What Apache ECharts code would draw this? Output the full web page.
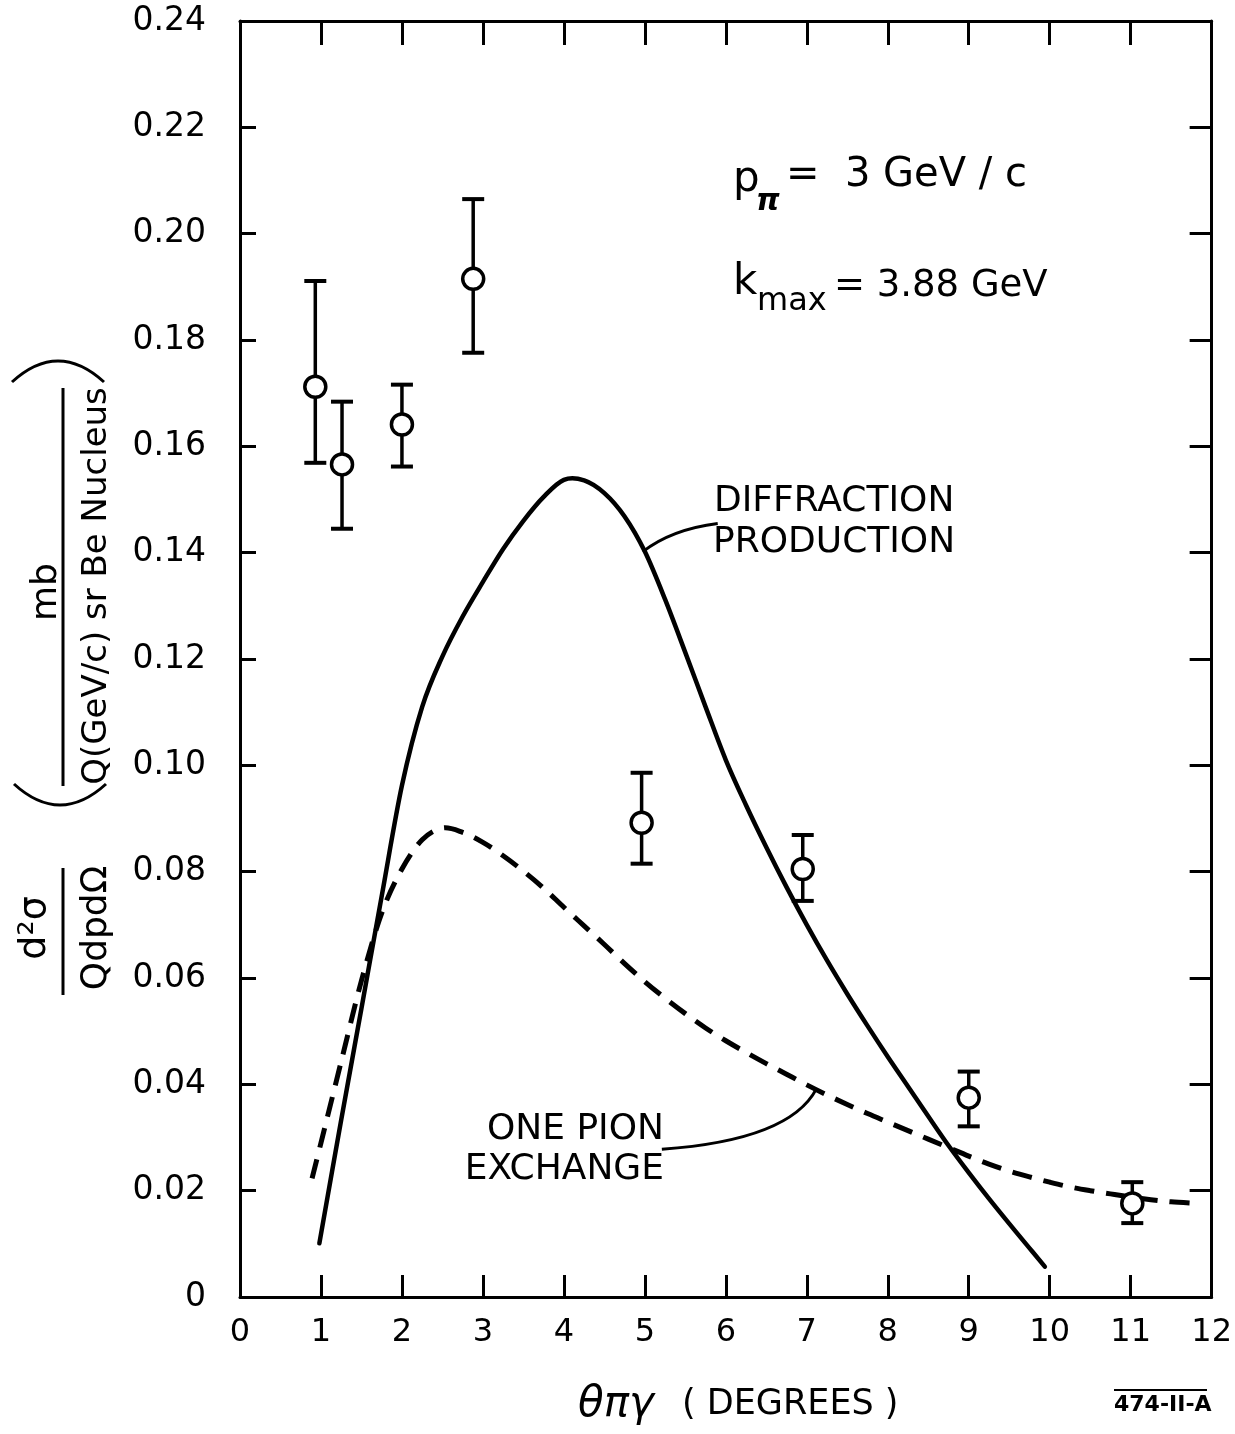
<!DOCTYPE html>
<html><head><meta charset="utf-8">
<script src="https://cdn.jsdelivr.net/npm/echarts@6/dist/echarts.min.js"></script>
<style>html,body{margin:0;padding:0;background:#fff}#c{width:1235px;height:1434px}</style>
</head><body><div id="c"></div>
<script>
// ---- data ----
const xTickValues = [0,1,2,3,4,5,6,7,8,9,10,11,12];
const yTickValues = [0,0.02,0.04,0.06,0.08,0.10,0.12,0.14,0.16,0.18,0.20,0.22,0.24];

const pointX   = [0.93, 1.26, 2.0, 2.88, 4.96, 6.95, 9.0, 11.02];
const pointY   = [0.1712, 0.1566, 0.1641, 0.1915, 0.0892, 0.0805, 0.0375, 0.0176];
const errLow   = [0.1569, 0.1445, 0.1562, 0.1776, 0.0815, 0.0745, 0.0321, 0.0139];
const errHigh  = [0.1911, 0.1684, 0.1716, 0.2065, 0.0986, 0.0869, 0.0424, 0.0216];

// "Diffraction production" curve (solid)
const diffX = [0.98, 1.25, 1.5, 1.75, 2.0, 2.25, 2.5, 2.75, 3.0, 3.25, 3.5, 3.75, 4.0, 4.25, 4.5, 4.75, 5.0, 5.25, 5.5, 5.75, 6.0, 6.25, 6.5, 6.75, 7.0, 7.25, 7.5, 7.75, 8.0, 8.25, 8.5, 8.75, 9.0, 9.25, 9.5, 9.75, 9.94];
const diffY = [0.0101, 0.0333, 0.0543, 0.0754, 0.0962, 0.1110, 0.1205, 0.1280, 0.1345, 0.1407, 0.1460, 0.1505, 0.1537, 0.1536, 0.1512, 0.1468, 0.1402, 0.1312, 0.1212, 0.1110, 0.1010, 0.0925, 0.0846, 0.0771, 0.0700, 0.0633, 0.0570, 0.0510, 0.0452, 0.0396, 0.0340, 0.0285, 0.0234, 0.0185, 0.0138, 0.0092, 0.0057];

// "One pion exchange" curve (dashed)
const opeX = [0.89, 1.0, 1.25, 1.5, 1.75, 2.0, 2.25, 2.5, 2.75, 3.0, 3.25, 3.5, 3.75, 4.0, 4.25, 4.5, 4.75, 5.0, 5.25, 5.5, 5.75, 6.0, 6.25, 6.5, 6.75, 7.0, 7.25, 7.5, 7.75, 8.0, 8.25, 8.5, 8.75, 9.0, 9.25, 9.5, 9.75, 10.0, 10.25, 10.5, 10.75, 11.0, 11.25, 11.5, 11.8];
const opeY = [0.0223, 0.0290, 0.0443, 0.0595, 0.0722, 0.0805, 0.0860, 0.0882, 0.0874, 0.0855, 0.0830, 0.0801, 0.0769, 0.0733, 0.0698, 0.0663, 0.0627, 0.0593, 0.0562, 0.0533, 0.0506, 0.0482, 0.0460, 0.0439, 0.0419, 0.0399, 0.0380, 0.0362, 0.0345, 0.0329, 0.0313, 0.0297, 0.0281, 0.0265, 0.0250, 0.0237, 0.0226, 0.0216, 0.0207, 0.0200, 0.0194, 0.0188, 0.0183, 0.0179, 0.0176];

// leader line anchors (data units): start, control, end
const diffLeader = [[4.975, 0.1402], [5.33, 0.1444], [5.9, 0.1455]];
const opeLeader  = [[5.21, 0.0278], [6.79, 0.0295], [7.12, 0.0392]];

// ---- chart ----
const FONT = 'DejaVu Sans';
const chart = echarts.init(document.getElementById('c'), null, {renderer:'canvas'});

const axisCommon = {
  type:'value', splitLine:{show:false},
  axisLine:{show:true, onZero:false, lineStyle:{color:'#000', width:3}},
};

// smooth curve through the data points (Catmull-Rom -> cubic Bezier), in pixel space via api.coord
function splineCurve(xs, ys, lineStyle){
  return (params, api) => {
    if (params.dataIndex !== 0) return null;
    const p = xs.map((x,i)=>api.coord([x, ys[i]]));
    let d = 'M' + p[0][0].toFixed(2) + ' ' + p[0][1].toFixed(2);
    for (let i = 0; i < p.length - 1; i++){
      const p0 = p[i-1] || p[i], p1 = p[i], p2 = p[i+1], p3 = p[i+2] || p[i+1];
      const c1x = p1[0] + (p2[0]-p0[0])/6, c1y = p1[1] + (p2[1]-p0[1])/6;
      const c2x = p2[0] - (p3[0]-p1[0])/6, c2y = p2[1] - (p3[1]-p1[1])/6;
      d += ' C' + [c1x,c1y,c2x,c2y,p2[0],p2[1]].map(v=>v.toFixed(2)).join(' ');
    }
    return {type:'path', shape:{pathData:d}, style:Object.assign({fill:'none', stroke:'#000'}, lineStyle)};
  };
}

const option = {
  backgroundColor:'#fff',
  animation:false,
  grid:{left:240, right:22, top:21, bottom:137, containLabel:false},
  xAxis:[
    Object.assign({}, axisCommon, {min:0, max:12, interval:1, position:'bottom',
      axisTick:{show:true, inside:true, length:22, lineStyle:{color:'#000', width:3}},
      axisLabel:{show:true, color:'#000', fontFamily:FONT, fontSize:32, margin:20}}),
    Object.assign({}, axisCommon, {min:0, max:12, interval:1, position:'top',
      axisTick:{show:true, inside:true, length:24, lineStyle:{color:'#000', width:3}},
      axisLabel:{show:false}})
  ],
  yAxis:[
    Object.assign({}, axisCommon, {min:0, max:0.24, interval:0.02, position:'left',
      axisTick:{show:true, inside:true, length:16, lineStyle:{color:'#000', width:3}},
      axisLabel:{show:true, color:'#000', fontFamily:FONT, fontSize:33, margin:34,
        formatter: v => (Math.abs(v) < 1e-9 ? '0' : v.toFixed(2))}}),
    Object.assign({}, axisCommon, {min:0, max:0.24, interval:0.02, position:'right',
      axisTick:{show:true, inside:true, length:22, lineStyle:{color:'#000', width:3}},
      axisLabel:{show:false}})
  ],
  series:[
    {
      type:'custom', name:'Diffraction production', xAxisIndex:0, yAxisIndex:0,
      data: diffX.map((x,i)=>[x, diffY[i]]),
      renderItem: splineCurve(diffX, diffY, {lineWidth:4.5, lineCap:'round'}), z:3
    },
    {
      type:'custom', name:'One pion exchange', xAxisIndex:0, yAxisIndex:0,
      data: opeX.map((x,i)=>[x, opeY[i]]),
      renderItem: splineCurve(opeX, opeY, {lineWidth:5, lineDash:[20,12]}), z:3
    },
    {
      type:'custom', name:'errors', xAxisIndex:0, yAxisIndex:0,
      data: pointX.map((x,i)=>[x, errLow[i], errHigh[i]]),
      renderItem:(params, api)=>{
        const x = api.value(0);
        const pLo = api.coord([x, api.value(1)]);
        const pHi = api.coord([x, api.value(2)]);
        const hw = 11;
        const st = {stroke:'#000', lineWidth:4};
        return {type:'group', children:[
          {type:'line', shape:{x1:pHi[0], y1:pHi[1], x2:pLo[0], y2:pLo[1]}, style:{stroke:'#000', lineWidth:3.5}},
          {type:'line', shape:{x1:pHi[0]-hw, y1:pHi[1], x2:pHi[0]+hw, y2:pHi[1]}, style:st},
          {type:'line', shape:{x1:pLo[0]-hw, y1:pLo[1], x2:pLo[0]+hw, y2:pLo[1]}, style:st}
        ]};
      }, z:4
    },
    {
      type:'scatter', name:'data', xAxisIndex:0, yAxisIndex:0,
      data: pointX.map((x,i)=>[x, pointY[i]]),
      symbol:'circle', symbolSize:21,
      itemStyle:{color:'#fff', borderColor:'#000', borderWidth:3.5, opacity:1}, z:5
    }
  ]
};
chart.setOption(option);

function px(p){ return chart.convertToPixel({xAxisIndex:0, yAxisIndex:0}, p); }
function leader(pts){
  const a = px(pts[0]), c = px(pts[1]), b = px(pts[2]);
  return {type:'bezierCurve', shape:{x1:a[0], y1:a[1], cpx1:c[0], cpy1:c[1], x2:b[0], y2:b[1]},
    style:{stroke:'#000', lineWidth:3, fill:null}, z:10};
}
function txt(x, y, s, size, opts){
  return Object.assign({type:'text', x:x, y:y, z:10,
    style:Object.assign({text:s, fill:'#000', font:'normal ' + size + 'px "' + FONT + '"', align:'left', verticalAlign:'middle'}, (opts && opts.style) || {})},
    opts && opts.el || {});
}
const R = Math.PI/2;
const graphics = [
  leader(diffLeader),
  leader(opeLeader),
  txt(714, 502, 'DIFFRACTION', 36),
  txt(713, 543, 'PRODUCTION', 36),
  txt(664, 1130, 'ONE PION', 36, {style:{align:'right'}}),
  txt(664, 1170, 'EXCHANGE', 36, {style:{align:'right'}}),
  // p_pi = 3 GeV/c
  txt(733, 180, 'p', 42),
  txt(756, 202, 'π', 30, {style:{font:'italic bold 30px "' + FONT + '"'}}),
  txt(786, 176, '=  3 GeV / c', 40),
  // k_max = 3.88 GeV
  txt(733, 283, 'k', 42),
  txt(757, 302, 'max', 32),
  txt(834, 286, '= 3.88 GeV', 37),
  // x-axis title
  txt(578, 1405, 'θπγ', 42, {style:{font:'italic 42px "' + FONT + '"'}}),
  txt(682, 1405, '( DEGREES )', 35),
  txt(1114, 1405, '474-II-A', 22, {style:{font:'bold 22px "' + FONT + '"'}}),
  {type:'line', shape:{x1:1114, y1:1390, x2:1207, y2:1390}, style:{stroke:'#000', lineWidth:2}},
  // y-axis title (rotated)
  txt(35, 928, 'd²σ', 38, {style:{align:'center'}, el:{rotation:R}}),
  {type:'line', shape:{x1:63, y1:868, x2:63, y2:995}, style:{stroke:'#000', lineWidth:3}},
  txt(97, 928, 'QdpdΩ', 36, {style:{align:'center'}, el:{rotation:R}}),
  {type:'bezierCurve', shape:{x1:14, y1:784, cpx1:60, cpy1:826, x2:106, y2:784}, style:{stroke:'#000', lineWidth:3, fill:null}},
  txt(47, 592, 'mb', 36, {style:{align:'center'}, el:{rotation:R}}),
  {type:'line', shape:{x1:63, y1:388, x2:63, y2:786}, style:{stroke:'#000', lineWidth:3}},
  txt(97, 586, 'Q(GeV/c) sr Be Nucleus', 34, {style:{align:'center'}, el:{rotation:R}}),
  {type:'bezierCurve', shape:{x1:12, y1:382, cpx1:58, cpy1:340, x2:104, y2:382}, style:{stroke:'#000', lineWidth:3, fill:null}}
];
chart.setOption({graphic:{elements:graphics}});
</script>
</body></html>
